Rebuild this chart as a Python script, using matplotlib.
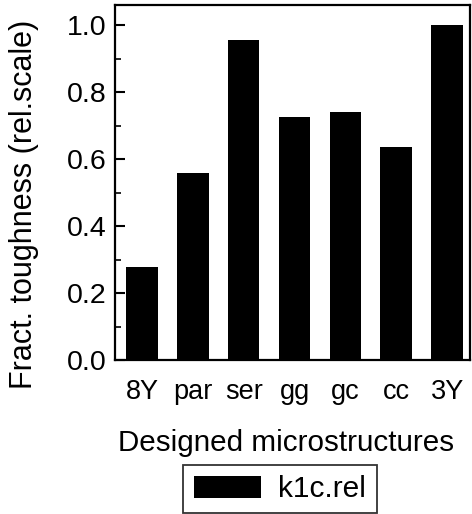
import matplotlib.pyplot as plt
from matplotlib.ticker import MultipleLocator

plt.rcParams['font.family'] = ['Liberation Sans', 'DejaVu Sans']

categories = ["8Y", "par", "ser", "gg", "gc", "cc", "3Y"]
k1c_rel = [0.278, 0.558, 0.955, 0.725, 0.74, 0.636, 1.0]

fig = plt.figure(figsize=(4.72, 5.14), dpi=100)
ax = fig.add_axes([115/472, 1 - 360/514, 355/472, 355/514])

x = range(len(categories))
ax.bar(x, k1c_rel, width=0.62, color="black", label="k1c.rel")

ax.set_xlim(-0.53, 6.45)
ax.set_ylim(0, 1.06)
ax.set_xticks(list(x))
ax.set_xticklabels(categories, fontsize=19.5)
ax.yaxis.set_major_locator(MultipleLocator(0.2))
ax.yaxis.set_minor_locator(MultipleLocator(0.1))
ax.set_yticks([0.0, 0.2, 0.4, 0.6, 0.8, 1.0])
ax.set_yticklabels(["0.0", "0.2", "0.4", "0.6", "0.8", "1.0"], fontsize=20.5)
ax.tick_params(axis="x", length=0, pad=14)
ax.tick_params(axis="y", which="major", direction="in", length=7, width=1.5, pad=6)
ax.tick_params(axis="y", which="minor", direction="in", length=4, width=1.2)
for s in ax.spines.values():
    s.set_linewidth(1.6)

ax.set_ylabel("Fract. toughness (rel.scale)", fontsize=22)
ax.yaxis.set_label_coords(-0.215, 0.437)
ax.set_xlabel("Designed microstructures", fontsize=21.3, labelpad=17)
ax.xaxis.label.set_x(0.482)

leg = fig.legend(loc="center", bbox_to_anchor=(280/472, 1 - 489/514),
                 fontsize=21.5, fancybox=False, edgecolor="black",
                 handlelength=2.27, handleheight=0.75, borderpad=0.35,
                 handletextpad=0.57)
leg.get_frame().set_linewidth(1.3)

fig.savefig("out.png", dpi=100)
